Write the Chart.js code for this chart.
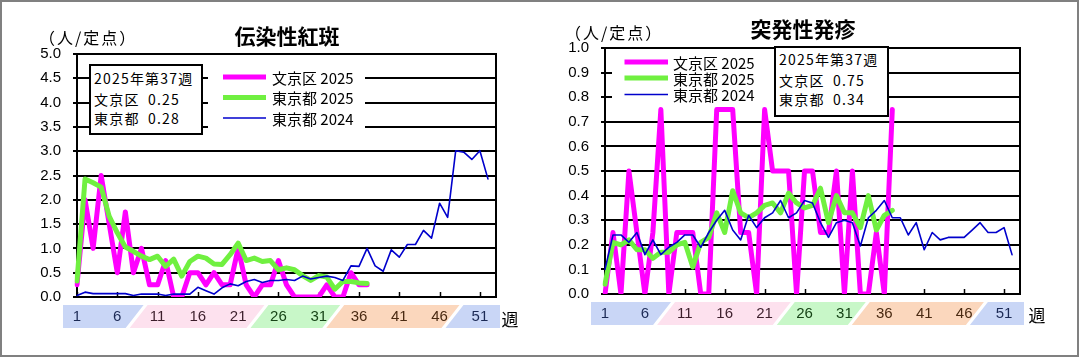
<!DOCTYPE html>
<html lang="ja">
<head>
<meta charset="utf-8">
<script src="https://cdn.jsdelivr.net/npm/chart.js@4.4.1/dist/chart.umd.min.js"></script>
<style>
  body { margin: 0; background: #fff; }
  #page { position: relative; width: 1079px; height: 357px; overflow: hidden; font-family: "Noto Sans CJK JP", sans-serif; color: #000; }
  canvas { position: absolute; top: 0; }
  #left-chart { left: 0; }
  #right-chart { left: 540px; }
  .frame { position: absolute; left: 0; top: 0; width: 1079px; height: 357px; box-sizing: border-box; border: 2px solid #808080; pointer-events: none; }
  .txt { position: absolute; white-space: nowrap; line-height: 1; transform: translateY(-50%); }
  .title { font-size: 21px; font-weight: bold; transform: translate(-50%, -50%); }
  .unit { font-size: 16px; letter-spacing: 2px; }
  .week { font-size: 17px; transform: translate(-50%, -50%); }
  .info { position: absolute; box-sizing: border-box; border: 2px solid #000; background: #fff; font-size: 14px; letter-spacing: 1.2px; }
</style>
</head>
<body>
<div id="page">
  <canvas id="left-chart" width="540" height="357"></canvas>
  <canvas id="right-chart" width="539" height="357"></canvas>

  <div class="txt title" style="left:287px; top:35px;">伝染性紅斑</div>
  <div class="txt unit" style="left:39px; top:37px;">（人/定点）</div>
  <div class="txt week" style="left:510px; top:318px;">週</div>
  <div class="info" style="left:89px; top:64px; width:114px; height:71px;">
    <span class="txt" style="left:3px; top:12px;">2025年第37週</span>
    <span class="txt" style="left:3px; top:33px;">文京区</span>
    <span class="txt" style="left:57px; top:33px;" id="left-bunkyo"></span>
    <span class="txt" style="left:3px; top:52px;">東京都</span>
    <span class="txt" style="left:57px; top:52px;" id="left-tokyo"></span>
  </div>

  <div class="txt title" style="left:803px; top:28px;">突発性発疹</div>
  <div class="txt unit" style="left:565px; top:32px;">（人/定点）</div>
  <div class="txt week" style="left:1037px; top:314px;">週</div>
  <div class="info" style="left:774px; top:46px; width:115px; height:71px;">
    <span class="txt" style="left:3px; top:11px;">2025年第37週</span>
    <span class="txt" style="left:3px; top:32px;">文京区</span>
    <span class="txt" style="left:57px; top:32px;" id="right-bunkyo"></span>
    <span class="txt" style="left:3px; top:51px;">東京都</span>
    <span class="txt" style="left:57px; top:51px;" id="right-tokyo"></span>
  </div>

  <div class="frame"></div>
</div>

<script>
  // --- Data ---
  const weeks = Array.from({ length: 53 }, (_, i) => String(i + 1));
  const weekTicks = [1, 6, 11, 16, 21, 26, 31, 36, 41, 46, 51];
  const seriesNames = ["文京区 2025", "東京都 2025", "東京都 2024"];

  // 伝染性紅斑 (per sentinel)
  const erythemaYTicks = [0, 0.5, 1, 1.5, 2, 2.5, 3, 3.5, 4, 4.5, 5];
  const erythemaBunkyo2025 = [0.25, 2.0, 1.0, 2.5, 1.5, 0.5, 1.75, 0.5, 1.0, 0.25,
    0.25, 0.75, 0, 0, 0.5, 0.5, 0.25, 0.5, 0.25, 0.25,
    1.0, 0.25, 0, 0.25, 0.25, 0.75, 0.25, 0, 0, 0,
    0, 0.25, 0, 0, 0.5, 0.25, 0.25];
  const erythemaTokyo2025 = [0.33, 2.43, 2.35, 2.26, 1.66, 1.32, 1.03, 0.94, 0.84, 0.77,
    0.84, 0.63, 0.78, 0.43, 0.73, 0.84, 0.8, 0.68, 0.67, 0.87,
    1.11, 0.75, 0.8, 0.73, 0.75, 0.56, 0.6, 0.56, 0.44, 0.34,
    0.44, 0.41, 0.16, 0.32, 0.32, 0.29, 0.28];
  const erythemaTokyo2024 = [0.03, 0.1, 0.07, 0.07, 0.07, 0.07, 0.07, 0.03, 0.06, 0.06,
    0.06, 0.03, 0.06, 0.06, 0.06, 0.2, 0.13, 0.06, 0.19, 0.27,
    0.23, 0.32, 0.36, 0.3, 0.34, 0.34, 0.36, 0.34, 0.43, 0.37,
    0.4, 0.43, 0.4, 0.34, 0.64, 0.63, 1.0, 0.64, 0.53, 0.97,
    0.82, 1.08, 1.08, 1.37, 1.21, 1.93, 1.64, 3.01, 2.98, 2.83,
    3.01, 2.43];

  // 突発性発疹 (per sentinel)
  const rashYTicks = [0, 0.1, 0.2, 0.3, 0.4, 0.5, 0.6, 0.7, 0.8, 0.9, 1.0];
  const rashBunkyo2025 = [0, 0.25, 0, 0.5, 0.25, 0, 0.25, 0.75, 0, 0.25,
    0.25, 0.25, 0, 0, 0.75, 0.75, 0.75, 0.25, 0.25, 0,
    0.75, 0.5, 0.5, 0.5, 0, 0.5, 0.5, 0.25, 0.25, 0.5,
    0, 0.5, 0, 0, 0.25, 0, 0.75];
  const rashTokyo2025 = [0.04, 0.21, 0.2, 0.22, 0.18, 0.18, 0.145, 0.17, 0.17, 0.2,
    0.21, 0.11, 0.21, 0.23, 0.33, 0.25, 0.42, 0.33, 0.31, 0.33,
    0.36, 0.37, 0.33, 0.41, 0.37, 0.35, 0.36, 0.43, 0.29, 0.4,
    0.33, 0.33, 0.27, 0.4, 0.26, 0.32, 0.34];
  const rashTokyo2024 = [0.1, 0.24, 0.24, 0.21, 0.25, 0.16, 0.22, 0.16, 0.19, 0.21,
    0.24, 0.24, 0.19, 0.25, 0.3, 0.34, 0.26, 0.22, 0.32, 0.27,
    0.31, 0.33, 0.38, 0.31, 0.33, 0.38, 0.37, 0.29, 0.23, 0.29,
    0.3, 0.29, 0.195, 0.31, 0.34, 0.38, 0.31, 0.31, 0.24, 0.29,
    0.18, 0.25, 0.22, 0.23, 0.23, 0.23, 0.26, 0.29, 0.25, 0.25,
    0.27, 0.16];

  // --- Season bands under the week axis ---
  const bandColors = ["#c9d6f6", "#fde1ee", "#c8f7c8", "#fbd7bd", "#c9d6f6"];
  const bandTextColors = ["#1c2a55", "#3d1f2c", "#174417", "#4a2a12", "#1c2a55"];
  const bandEdges = [8.4, 23.4, 32.8, 47.6]; // week numbers where the season changes

  function seasonOf(week) {
    let i = 0;
    while (i < bandEdges.length && week > bandEdges[i]) i++;
    return i;
  }

  const seasonBands = {
    id: "seasonBands",
    beforeDraw(chart) {
      const { ctx, chartArea } = chart;
      const xs = chart.scales.x;
      const top = chartArea.bottom + 8;
      const bottom = chartArea.bottom + 31;
      const slant = 18;
      const gap = 2;
      const mids = bandEdges.map((w) => xs.getPixelForValue(w - 1));
      ctx.save();
      bandColors.forEach((color, i) => {
        const lt = i === 0 ? chartArea.left - 14 : mids[i - 1] + slant / 2 + gap;
        const lb = i === 0 ? chartArea.left - 14 : mids[i - 1] - slant / 2 + gap;
        const last = i === bandColors.length - 1;
        const rt = last ? chartArea.right + 4 : mids[i] + slant / 2 - gap;
        const rb = last ? chartArea.right + 4 : mids[i] - slant / 2 - gap;
        ctx.beginPath();
        ctx.moveTo(lt, top);
        ctx.lineTo(rt, top);
        ctx.lineTo(rb, bottom);
        ctx.lineTo(lb, bottom);
        ctx.closePath();
        ctx.fillStyle = color;
        ctx.fill();
      });
      ctx.restore();
    },
  };

  // frame round the plot and the short inward week ticks
  const plotFrame = {
    id: "plotFrame",
    beforeDatasetsDraw(chart) {
      const { ctx, chartArea } = chart;
      const xs = chart.scales.x;
      ctx.save();
      ctx.strokeStyle = "#000";
      ctx.lineWidth = 2;
      ctx.strokeRect(chartArea.left, chartArea.top, chartArea.right - chartArea.left, chartArea.bottom - chartArea.top);
      ctx.lineWidth = 1.5;
      weekTicks.forEach((w) => {
        const px = Math.round(xs.getPixelForValue(w - 1)) + 0.5;
        ctx.beginPath();
        ctx.moveTo(px, chartArea.bottom);
        ctx.lineTo(px, chartArea.bottom - 5);
        ctx.stroke();
      });
      ctx.restore();
    },
  };

  // legend drawn inside the plot on a white box
  const boxLegend = {
    id: "boxLegend",
    afterDraw(chart, args, opts) {
      const { ctx } = chart;
      ctx.save();
      ctx.fillStyle = "#fff";
      ctx.fillRect(opts.box.x, opts.box.y, opts.box.w, opts.box.h);
      ctx.font = '15px "Noto Sans CJK JP", sans-serif';
      ctx.textBaseline = "middle";
      ctx.lineCap = "butt";
      chart.data.datasets.forEach((ds, i) => {
        const y = opts.rows[i];
        ctx.strokeStyle = ds.borderColor;
        ctx.lineWidth = ds.borderWidth;
        ctx.beginPath();
        ctx.moveTo(opts.lineFrom, y);
        ctx.lineTo(opts.lineTo, y);
        ctx.stroke();
        ctx.fillStyle = "#000";
        ctx.fillText(ds.label, opts.textX, y + 1);
      });
      ctx.restore();
    },
  };

  function makeDatasets(bunkyo, tokyo, tokyoPrev) {
    const common = { pointRadius: 0, tension: 0, borderJoinStyle: "round", borderCapStyle: "round", fill: false };
    return [
      { ...common, label: seriesNames[0], data: bunkyo, borderColor: "#ff00ff", borderWidth: 5, order: 2 },
      { ...common, label: seriesNames[1], data: tokyo, borderColor: "#70f040", borderWidth: 5, order: 1 },
      { ...common, label: seriesNames[2], data: tokyoPrev, borderColor: "#0000cc", borderWidth: 1.6, order: 0 },
    ];
  }

  function makeChart(canvas, datasets, yTicks, frame, legendOpts) {
    return new Chart(canvas.getContext("2d"), {
      type: "line",
      data: { labels: weeks, datasets },
      plugins: [seasonBands, plotFrame, boxLegend],
      options: {
        responsive: false,
        animation: false,
        layout: { padding: { top: frame.top, right: frame.right, left: 0, bottom: 0 } },
        plugins: {
          legend: { display: false },
          tooltip: { enabled: false },
          boxLegend: legendOpts,
        },
        scales: {
          x: {
            type: "category",
            offset: false,
            afterFit: (s) => { s.height = frame.axisHeight; },
            afterBuildTicks: (s) => { s.ticks = weekTicks.map((w) => ({ value: w - 1 })); },
            grid: { display: false, drawTicks: false },
            border: { display: true, color: "#000", width: 2 },
            ticks: {
              autoSkip: false,
              maxRotation: 0,
              padding: 11,
              font: { family: '"Liberation Sans", Arial, sans-serif', size: 15 },
              color: (c) => bandTextColors[seasonOf(c.tick.value + 1)],
            },
          },
          y: {
            min: yTicks[0],
            max: yTicks[yTicks.length - 1],
            afterFit: (s) => { s.width = frame.axisWidth; },
            afterBuildTicks: (s) => { s.ticks = yTicks.map((v) => ({ value: v })); },
            grid: { color: "#000", lineWidth: 2, tickLength: 4, drawTicks: true },
            border: { display: true, color: "#000", width: 2 },
            ticks: {
              padding: 12,
              font: { family: '"Liberation Sans", Arial, sans-serif', size: 15 },
              color: "#000",
              callback: (v) => Number(v).toFixed(1),
            },
          },
        },
      },
    });
  }

  const fmt = (v) => v.toFixed(2);

  makeChart(
    document.getElementById("left-chart"),
    makeDatasets(erythemaBunkyo2025, erythemaTokyo2025, erythemaTokyo2024),
    erythemaYTicks,
    { top: 54, right: 44, axisWidth: 77, axisHeight: 60 },
    { box: { x: 208, y: 60, w: 157, h: 71 }, rows: [77, 97.5, 118], lineFrom: 223, lineTo: 266, textX: 272 }
  );

  makeChart(
    document.getElementById("right-chart"),
    makeDatasets(rashBunkyo2025, rashTokyo2025, rashTokyo2024),
    rashYTicks,
    { top: 48, right: 59, axisWidth: 65, axisHeight: 63 },
    { box: { x: 72, y: 52, w: 164, h: 53 }, rows: [62, 78, 94.5], lineFrom: 84.5, lineTo: 128, textX: 133 }
  );

  // latest week values in the info boxes
  document.getElementById("left-bunkyo").textContent = fmt(erythemaBunkyo2025[erythemaBunkyo2025.length - 1]);
  document.getElementById("left-tokyo").textContent = fmt(erythemaTokyo2025[erythemaTokyo2025.length - 1]);
  document.getElementById("right-bunkyo").textContent = fmt(rashBunkyo2025[rashBunkyo2025.length - 1]);
  document.getElementById("right-tokyo").textContent = fmt(rashTokyo2025[rashTokyo2025.length - 1]);
</script>
</body>
</html>
